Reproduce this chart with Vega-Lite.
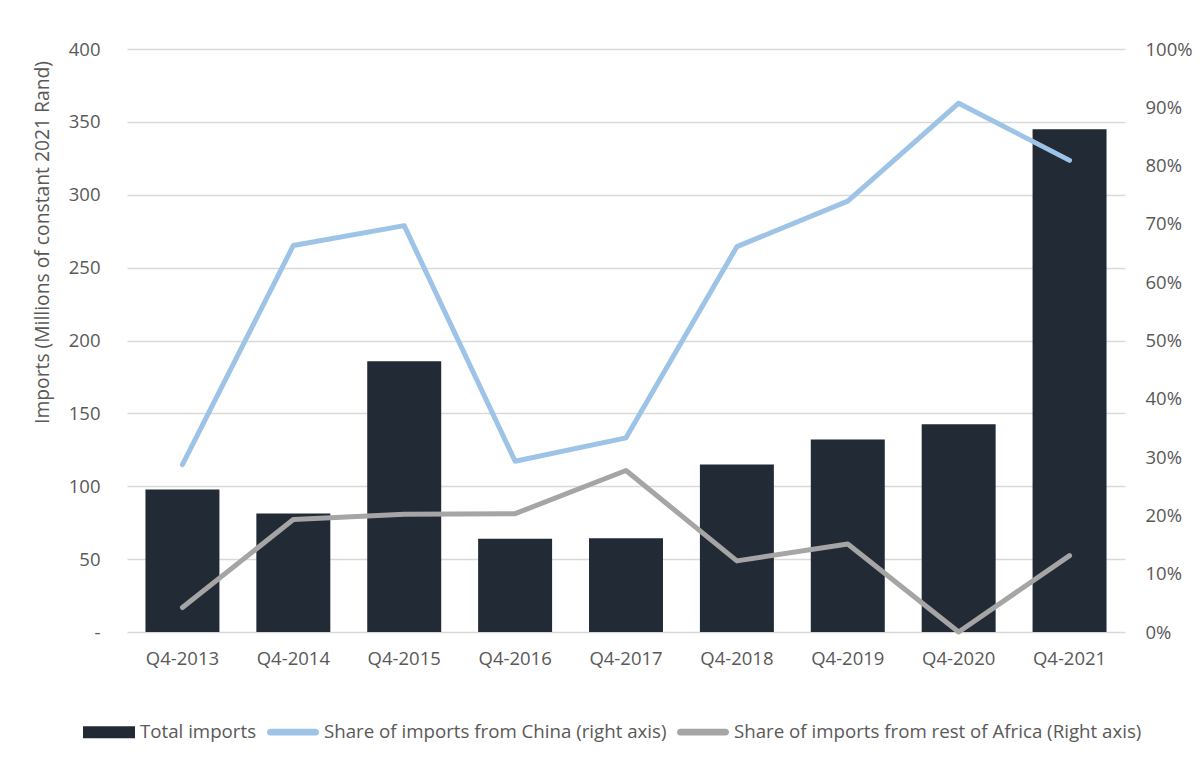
{
  "$schema": "https://vega.github.io/schema/vega-lite/v6.json",
  "width": 998,
  "height": 583,
  "autosize": {"type": "none"},
  "padding": {"left": 127, "top": 49, "right": 79, "bottom": 131},
  "background": "white",
  "config": {
    "font": "Open Sans",
    "view": {"stroke": null},
    "axis": {"labelColor": "#595959", "titleColor": "#595959", "labelFontSize": 18.5, "titleFontSize": 19.3, "titleFontWeight": "normal", "ticks": false, "domain": false}
  },
  "data": {
    "values": [
      {"quarter": "Q4-2013", "total": 97.7, "china": 0.287, "africa": 0.042},
      {"quarter": "Q4-2014", "total": 81.3, "china": 0.663, "africa": 0.193},
      {"quarter": "Q4-2015", "total": 185.8, "china": 0.697, "africa": 0.202},
      {"quarter": "Q4-2016", "total": 63.9, "china": 0.293, "africa": 0.203},
      {"quarter": "Q4-2017", "total": 64.4, "china": 0.333, "africa": 0.277},
      {"quarter": "Q4-2018", "total": 115.0, "china": 0.661, "africa": 0.122},
      {"quarter": "Q4-2019", "total": 132.0, "china": 0.739, "africa": 0.151},
      {"quarter": "Q4-2020", "total": 142.6, "china": 0.907, "africa": 0.0},
      {"quarter": "Q4-2021", "total": 344.9, "china": 0.809, "africa": 0.131}
    ]
  },
  "encoding": {
    "x": {
      "field": "quarter", "type": "nominal", "sort": null,
      "scale": {"paddingInner": 0.333, "paddingOuter": 0.1665},
      "axis": {"title": null, "labelAngle": 0, "labelPadding": 17, "grid": false}
    }
  },
  "layer": [
    {
      "mark": {"type": "bar", "color": "#222A35"},
      "encoding": {
        "y": {
          "field": "total", "type": "quantitative",
          "scale": {"domain": [0, 400], "nice": false},
          "axis": {
            "title": "Imports (Millions of constant 2021 Rand)",
            "values": [0, 50, 100, 150, 200, 250, 300, 350, 400],
            "labelExpr": "datum.value == 0 ? '-' : datum.label",
            "labelPadding": 27, "titlePadding": 16, "titleY": 193,
            "grid": true, "gridColor": "#D9D9D9", "gridWidth": 1.5
          }
        },
        "color": {
          "datum": "Total imports",
          "scale": {
            "domain": ["Total imports", "Share of imports from China (right axis)", "Share of imports from rest of Africa (Right axis)"],
            "range": ["#222A35", "#9DC3E6", "#A5A5A5"]
          },
          "legend": {
            "title": null, "orient": "none", "direction": "horizontal", "legendX": -44, "legendY": 657,
            "labelFontSize": 18.7, "labelColor": "#595959", "labelOffset": 5, "columnPadding": 10, "labelLimit": 0,
            "symbolType": "M-1,-0.23H1V0.23H-1Z", "symbolSize": 2704, "symbolStrokeWidth": 0,
            "encode": {
              "symbols": {
                "update": {
                  "shape": {"signal": "datum.value == 'Total imports' ? 'M-1,-0.23H1V0.23H-1Z' : 'M-0.87,-0.13H0.87A0.13,0.13 0 0 1 0.87,0.13H-0.87A0.13,0.13 0 0 1 -0.87,-0.13Z'"},
                  "fill": {"scale": "color", "field": "value"},
                  "strokeWidth": {"value": 0},
                  "opacity": {"value": 1}
                }
              }
            }
          }
        }
      }
    },
    {
      "layer": [
        {
          "mark": {"type": "line", "strokeWidth": 5, "strokeCap": "round", "strokeJoin": "round"},
          "encoding": {
            "y": {
              "field": "china", "type": "quantitative",
              "scale": {"domain": [0, 1], "nice": false},
              "axis": {
                "orient": "right", "title": null, "format": ".0%",
                "values": [0, 0.1, 0.2, 0.3, 0.4, 0.5, 0.6, 0.7, 0.8, 0.9, 1.0],
                "labelPadding": 20, "grid": false
              }
            },
            "color": {"datum": "Share of imports from China (right axis)"}
          }
        },
        {
          "mark": {"type": "line", "strokeWidth": 5, "strokeCap": "round", "strokeJoin": "round"},
          "encoding": {
            "y": {"field": "africa", "type": "quantitative"},
            "color": {"datum": "Share of imports from rest of Africa (Right axis)"}
          }
        }
      ]
    }
  ],
  "resolve": {"scale": {"y": "independent"}}
}
